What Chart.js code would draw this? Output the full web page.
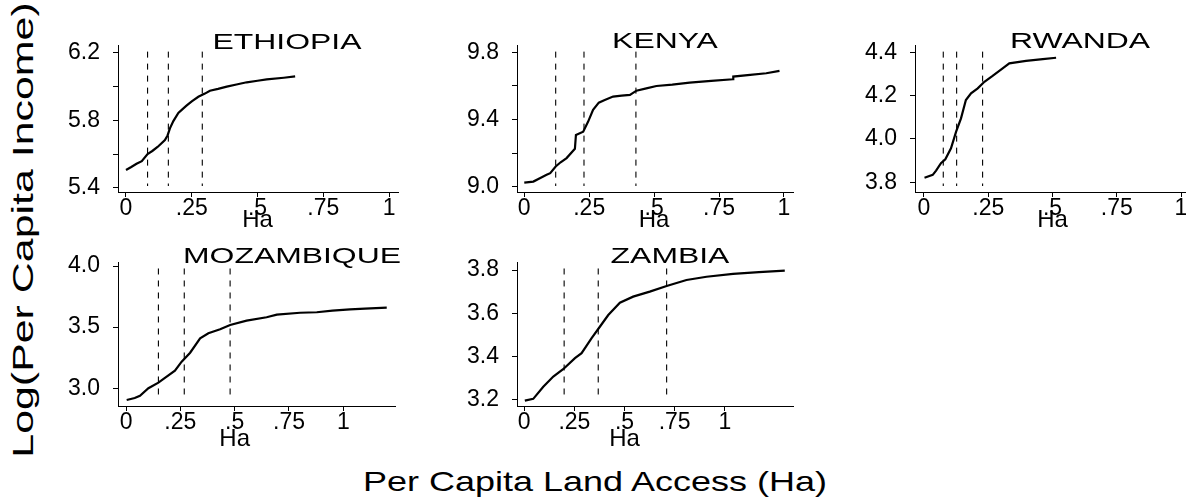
<!DOCTYPE html>
<html>
<head>
<meta charset="utf-8">
<script src="https://cdn.jsdelivr.net/npm/chart.js@4.4.1/dist/chart.umd.min.js"></script>
<style>
  html, body { margin: 0; padding: 0; background: #fff; }
  body { width: 1186px; height: 499px; position: relative; overflow: hidden; font-family: "Liberation Sans", Arial, sans-serif; }
  canvas { position: absolute; }
  .big-title { position: absolute; font-size: 28px; line-height: 1; white-space: nowrap; color: #000; }
</style>
</head>
<body>
<div class="big-title" style="left:23px; top:230px; font-size:30px; transform: translate(-50%,-50%) rotate(-90deg) scaleX(1.43);">Log(Per Capita Income)</div>
<div class="big-title" style="left:595px; top:482px; transform: translate(-50%,-50%) scaleX(1.285);">Per Capita Land Access (Ha)</div>

<canvas id="eth" width="362" height="234" style="left:48px; top:0px;"></canvas>
<canvas id="ken" width="358" height="234" style="left:447px; top:0px;"></canvas>
<canvas id="rwa" width="357" height="234" style="left:845px; top:0px;"></canvas>
<canvas id="moz" width="359" height="231" style="left:48px; top:217px;"></canvas>
<canvas id="zam" width="358" height="231" style="left:447px; top:217px;"></canvas>

<script>
// x axis (Ha) ticks, same in every panel
const xTicks = [0, 0.25, 0.5, 0.75, 1];
const xTickLabels = ['0', '.25', '.5', '.75', '1'];

// ETHIOPIA
const ethLand = [0, 0.02, 0.04, 0.06, 0.082, 0.1, 0.12, 0.148, 0.158, 0.167, 0.18, 0.199, 0.215, 0.231, 0.25, 0.275, 0.3, 0.319, 0.35, 0.383, 0.42, 0.459, 0.5, 0.535, 0.6, 0.643];
const ethIncome = [5.505, 5.523, 5.542, 5.558, 5.6, 5.618, 5.642, 5.683, 5.71, 5.752, 5.795, 5.844, 5.866, 5.888, 5.912, 5.939, 5.958, 5.975, 5.986, 5.999, 6.012, 6.025, 6.034, 6.042, 6.052, 6.06];
const ethCuts = [0.082, 0.161, 0.29];
const ethYTicks = [5.4, 5.6, 5.8, 6.0, 6.2];
const ethYLabels = ['5.4', '', '5.8', '', '6.2'];

// KENYA
const kenLand = [0, 0.035, 0.06, 0.086, 0.1, 0.121, 0.14, 0.163, 0.195, 0.199, 0.227, 0.246, 0.265, 0.287, 0.31, 0.342, 0.375, 0.407, 0.432, 0.47, 0.509, 0.57, 0.637, 0.72, 0.804, 0.805, 0.87, 0.932, 0.983];
const kenIncome = [9.024, 9.03, 9.05, 9.07, 9.08, 9.12, 9.145, 9.17, 9.225, 9.308, 9.327, 9.387, 9.457, 9.5, 9.515, 9.536, 9.542, 9.546, 9.571, 9.585, 9.599, 9.607, 9.619, 9.63, 9.639, 9.655, 9.665, 9.675, 9.689];
const kenCuts = [0.121, 0.23, 0.43];
const kenYTicks = [9.0, 9.2, 9.4, 9.6, 9.8];
const kenYLabels = ['9.0', '', '9.4', '', '9.8'];

// RWANDA
const rwaLand = [0.002, 0.034, 0.047, 0.066, 0.083, 0.105, 0.125, 0.144, 0.163, 0.183, 0.209, 0.235, 0.267, 0.306, 0.332, 0.397, 0.462, 0.514];
const rwaIncome = [3.821, 3.834, 3.854, 3.888, 3.906, 3.957, 4.034, 4.095, 4.18, 4.211, 4.234, 4.264, 4.291, 4.326, 4.349, 4.361, 4.369, 4.375];
const rwaCuts = [0.075, 0.127, 0.228];
const rwaYTicks = [3.8, 4.0, 4.2, 4.4];
const rwaYLabels = ['3.8', '4.0', '4.2', '4.4'];

// MOZAMBIQUE
const mozLand = [0.003, 0.04, 0.064, 0.103, 0.149, 0.187, 0.225, 0.256, 0.295, 0.341, 0.379, 0.433, 0.479, 0.555, 0.647, 0.694, 0.801, 0.878, 0.95, 1.031, 1.1, 1.2];
const mozIncome = [2.904, 2.92, 2.939, 3.0, 3.046, 3.095, 3.144, 3.218, 3.291, 3.409, 3.45, 3.483, 3.518, 3.553, 3.581, 3.602, 3.618, 3.622, 3.635, 3.646, 3.652, 3.659];
const mozCuts = [0.149, 0.268, 0.479];
const mozYTicks = [3.0, 3.5, 4.0];
const mozYLabels = ['3.0', '3.5', '4.0'];

// ZAMBIA
const zamLand = [0.003, 0.045, 0.095, 0.145, 0.194, 0.253, 0.286, 0.336, 0.377, 0.419, 0.477, 0.543, 0.626, 0.71, 0.809, 0.909, 1.041, 1.17, 1.299];
const zamIncome = [3.197, 3.205, 3.261, 3.308, 3.342, 3.393, 3.416, 3.485, 3.538, 3.592, 3.649, 3.677, 3.7, 3.726, 3.754, 3.769, 3.782, 3.79, 3.797];
const zamCuts = [0.199, 0.369, 0.71];
const zamYTicks = [3.2, 3.4, 3.6, 3.8];
const zamYLabels = ['3.2', '3.4', '3.6', '3.8'];

const FONT = '"Liberation Sans", Arial, sans-serif';
Chart.defaults.font.family = FONT;
Chart.defaults.color = '#000';

// draws the country name and the "Ha" axis label
const panelText = {
    id: 'panelText',
    afterDraw(chart, args, opts) {
        const ctx = chart.ctx;
        ctx.save();
        ctx.fillStyle = '#000';
        ctx.font = '22px ' + FONT;
        ctx.textAlign = 'center';
        ctx.textBaseline = 'alphabetic';
        ctx.translate(opts.titleX, opts.titleY);
        ctx.scale(1.45, 1);
        ctx.fillText(opts.title, 0, 0);
        ctx.restore();

        ctx.save();
        ctx.fillStyle = '#000';
        ctx.font = '24px ' + FONT;
        ctx.textAlign = 'center';
        ctx.textBaseline = 'middle';
        ctx.fillText('Ha', chart.scales.x.getPixelForValue(0.5), chart.chartArea.bottom + opts.haGap);
        ctx.restore();
    }
};

function makePanel(id, title, land, income, cuts, yTicks, yLabels, xMin, xMax, yMin, yMax, titleX, titleY, haGap) {
    const span = yMax - yMin;
    const lo = yMin + span * 0.04;
    const hi = yMax - span * 0.045;

    const datasets = [{
        data: land.map((x, i) => ({x: x, y: income[i]})),
        borderColor: '#000',
        borderWidth: 2.2,
        pointRadius: 0,
        tension: 0,
        order: 0
    }];
    cuts.forEach(c => {
        datasets.push({
            data: [{x: c, y: hi}, {x: c, y: lo}],
            borderColor: '#000',
            borderWidth: 1.1,
            borderDash: [6, 6],
            pointRadius: 0,
            order: 1
        });
    });

    new Chart(document.getElementById(id), {
        type: 'line',
        data: { datasets: datasets },
        plugins: [panelText],
        options: {
            responsive: false,
            animation: false,
            devicePixelRatio: 1,
            layout: { padding: { top: 45, right: 12, left: 0, bottom: 0 } },
            plugins: {
                legend: { display: false },
                tooltip: { enabled: false },
                panelText: { title: title, titleX: titleX, titleY: titleY, haGap: haGap }
            },
            scales: {
                x: {
                    type: 'linear',
                    min: xMin,
                    max: xMax,
                    afterBuildTicks: s => { s.ticks = xTicks.map(v => ({value: v})); },
                    afterFit: s => { s.height = 42; },
                    ticks: {
                        callback: (v, i) => xTickLabels[i],
                        font: { size: 23, lineHeight: 1 },
                        color: '#000',
                        padding: 0,
                        maxRotation: 0,
                        autoSkip: false
                    },
                    grid: { drawOnChartArea: false, tickLength: 5, color: '#000' },
                    border: { color: '#000', width: 1 }
                },
                y: {
                    type: 'linear',
                    min: yMin,
                    max: yMax,
                    afterBuildTicks: s => { s.ticks = yTicks.map(v => ({value: v})); },
                    afterFit: s => { s.width = 70; },
                    ticks: {
                        callback: (v, i) => yLabels[i],
                        font: { size: 23, lineHeight: 1 },
                        color: '#000',
                        padding: 13,
                        autoSkip: false
                    },
                    grid: { drawOnChartArea: false, tickLength: 5, color: '#000' },
                    border: { color: '#000', width: 1 }
                }
            }
        }
    });
}

makePanel('eth', 'ETHIOPIA', ethLand, ethIncome, ethCuts, ethYTicks, ethYLabels, -0.0304, 1.034, 5.375, 6.246, 239, 49, 28.5);
makePanel('ken', 'KENYA', kenLand, kenIncome, kenCuts, kenYTicks, kenYLabels, -0.028, 1.035, 8.968, 9.843, 218, 48, 28.5);
makePanel('rwa', 'RWANDA', rwaLand, rwaIncome, rwaCuts, rwaYTicks, rwaYLabels, -0.035, 1.035, 3.755, 4.434, 235, 48, 28.5);
makePanel('moz', 'MOZAMBIQUE', mozLand, mozIncome, mozCuts, mozYTicks, mozYLabels, -0.037, 1.238, 2.855, 4.033, 244, 46, 33);
makePanel('zam', 'ZAMBIA', zamLand, zamIncome, zamCuts, zamYTicks, zamYLabels, -0.036, 1.34, 3.172, 3.837, 223, 46, 33);
</script>
</body>
</html>
